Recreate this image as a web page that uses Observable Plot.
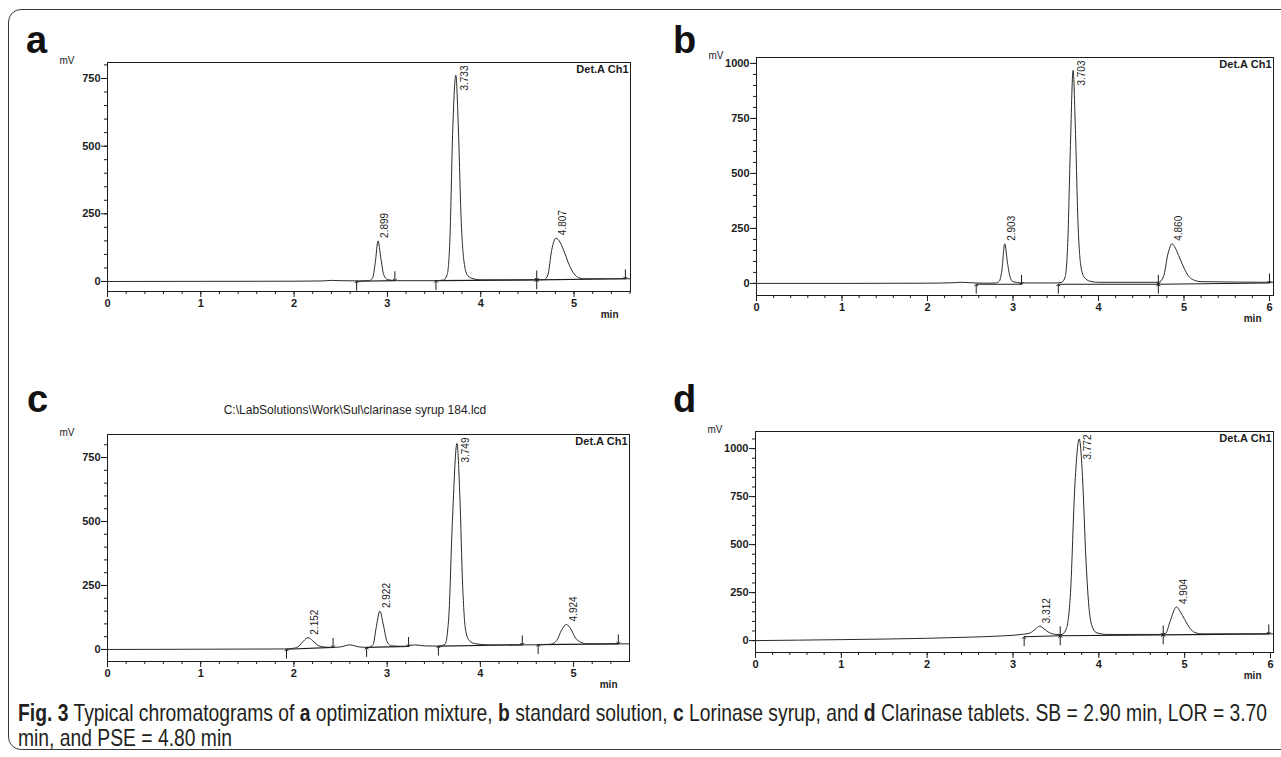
<!DOCTYPE html>
<html>
<head>
<meta charset="utf-8">
<script src="https://cdn.jsdelivr.net/npm/d3@7"></script>
<script src="https://cdn.jsdelivr.net/npm/@observablehq/plot@0.6"></script>
<style>
  html, body { margin: 0; padding: 0; background: #fff; }
  #root { position: relative; width: 1281px; height: 757px; overflow: hidden; background: #fff; }
  #root svg.plot { position: absolute; }
  #border { position: absolute; left: 8px; top: 9px; width: 1300px; height: 741px;
            border: 1.6px solid #3a3a3a; border-radius: 13px; box-sizing: border-box; }
  #overlay { position: absolute; left: 0; top: 0; }
</style>
</head>
<body>
<div id="root"><div id="border"></div></div>
<script>
// ---------------- data ----------------
// chromatogram traces: [time (min), signal (mV)]
const traceA = [[0,0],[1,0.5],[2,1],[2.3,2],[2.4,4],[2.5,3],[2.7,2],[2.8,3],[2.84,12],[2.87,70],[2.899,150],[2.93,85],[2.96,25],[3.0,7],[3.1,3],[3.5,3],[3.6,5],[3.64,25],[3.67,160],[3.70,560],[3.733,762],[3.76,570],[3.79,230],[3.82,75],[3.86,22],[3.92,10],[4.0,6],[4.5,6],[4.68,7],[4.72,25],[4.76,115],[4.807,160],[4.85,145],[4.90,105],[4.95,60],[5.0,28],[5.05,14],[5.1,10],[5.6,10]];
const traceB = [[0,0],[1,0],[2,1],[2.3,3],[2.4,5],[2.5,3],[2.7,1],[2.8,2],[2.84,10],[2.87,60],[2.903,180],[2.935,95],[2.965,30],[3.0,8],[3.1,2],[3.5,2],[3.57,5],[3.61,30],[3.64,180],[3.67,600],[3.703,968],[3.73,700],[3.76,280],[3.79,90],[3.83,30],[3.9,10],[4.0,5],[4.7,5],[4.76,30],[4.81,130],[4.86,180],[4.90,160],[4.95,115],[5.0,70],[5.05,35],[5.1,18],[5.2,8],[6.05,5]];
const traceC = [[0,0],[1,1],[1.9,2],[2.0,5],[2.06,15],[2.1,32],[2.152,46],[2.2,35],[2.25,18],[2.32,10],[2.42,8],[2.5,10],[2.6,18],[2.7,10],[2.8,8],[2.85,20],[2.88,80],[2.922,150],[2.96,95],[3.0,30],[3.05,14],[3.2,12],[3.3,18],[3.4,14],[3.55,13],[3.62,20],[3.66,120],[3.70,500],[3.749,805],[3.78,600],[3.81,250],[3.84,80],[3.88,35],[3.95,22],[4.1,18],[4.5,18],[4.75,20],[4.82,35],[4.87,75],[4.924,98],[4.97,80],[5.02,45],[5.08,28],[5.15,22],[5.6,22]];
const traceD = [[0,0],[1,5],[2,12],[2.5,18],[2.9,25],[3.1,32],[3.2,40],[3.26,60],[3.312,75],[3.36,62],[3.42,42],[3.5,32],[3.56,30],[3.62,60],[3.67,250],[3.72,800],[3.772,1050],[3.81,850],[3.85,420],[3.89,150],[3.93,65],[3.98,40],[4.1,32],[4.7,32],[4.78,38],[4.83,100],[4.904,175],[4.95,150],[5.0,110],[5.06,65],[5.12,42],[5.2,35],[6.03,35]];

// peak retention times and apex heights (mV)
const peakTimesA = [2.899, 3.733, 4.807];
const peakHeightsA = [150, 762, 160];
const peakTimesB = [2.903, 3.703, 4.860];
const peakHeightsB = [180, 968, 180];
const peakTimesC = [2.152, 2.922, 3.749, 4.924];
const peakHeightsC = [46, 150, 805, 98];
const peakTimesD = [3.312, 3.772, 4.904];
const peakHeightsD = [75, 1050, 175];

// integration marks: [time, signal, kind]
const stopsA = [[2.67,1,"up"],[3.08,3,"down"],[3.52,3,"up"],[4.6,6,"both"],[5.55,10,"down"]];
const stopsB = [[2.57,-4,"up"],[3.1,-4,"down"],[3.53,-4,"up"],[4.7,-4,"both"],[6.0,2,"down"]];
const stopsC = [[1.92,1,"up"],[2.42,8,"down"],[2.78,8,"up"],[3.23,12,"down"],[3.55,13,"up"],[4.45,18,"down"],[4.62,19,"up"],[5.48,22,"down"]];
const stopsD = [[3.13,20,"up"],[3.55,25,"both"],[4.75,30,"both"],[5.98,35,"down"]];

// integration baselines: [t1, v1, t2, v2]
const basesA = [[2.67,1,3.08,3],[3.52,3,4.6,6],[4.6,6,5.55,10]];
const basesB = [[2.57,-4,3.1,-4],[3.53,-4,4.7,-4],[4.7,-4,6.0,2]];
const basesC = [[1.92,1,2.42,8],[2.78,8,3.23,12],[3.55,13,4.45,18],[4.62,19,5.48,22]];
const basesD = [[3.13,20,3.55,25],[3.55,25,4.75,30],[4.75,30,5.98,35]];

// tick labels
const yMajorA = [0, 250, 500, 750];
const yMajorB = [0, 250, 500, 750, 1000];
const xMajorA = [0, 1, 2, 3, 4, 5];
const xMajorB = [0, 1, 2, 3, 4, 5, 6];

const panelLetters = ["a", "b", "c", "d"];
const detectorLabel = "Det.A Ch1";
const unitY = "mV";
const unitX = "min";
const fileTitleC = "C:\\LabSolutions\\Work\\Sul\\clarinase syrup 184.lcd";

// ---------------- drawing ----------------
const FONT = '"Liberation Sans", Arial, sans-serif';
const INK = "#1c1c1c";
const root = document.getElementById("root");
const fmt = d3.format("d");

function panel(cfg) {
  const ML = 60, MR = 12, MT = 16, MB = 40;
  const fr = cfg.frame;
  const [y0, y1] = cfg.yDomain;
  const peaks = cfg.peakTimes.map((t, i) => ({t, v: cfg.peakHeights[i]}));
  const tallLimit = y1 * 0.85;
  const ups = [], downs = [];
  for (const [t, v, k] of cfg.stops) {
    if (k === "up" || k === "both") ups.push({t, v});
    if (k === "down" || k === "both") downs.push({t, v});
  }
  const p = Plot.plot({
    width: fr.r - fr.l + ML + MR,
    height: fr.b - fr.t + MT + MB,
    marginLeft: ML, marginRight: MR, marginTop: MT, marginBottom: MB,
    x: {domain: [0, cfg.xMax]},
    y: {domain: [y0, y1]},
    style: {fontFamily: FONT, background: "transparent", color: INK, overflow: "visible"},
    marks: [
      Plot.frame({stroke: INK, strokeWidth: 1}),
      Plot.axisY({ticks: d3.range(0, y1, 50), tickSize: 3, tickFormat: () => "", label: null}),
      Plot.axisY({ticks: cfg.yMajor, tickSize: 6, tickPadding: 1, tickFormat: fmt, fontSize: 11, fontWeight: "bold", label: null}),
      Plot.axisX({ticks: d3.range(0, cfg.xMax, 0.2), tickSize: 3, tickFormat: () => "", label: null}),
      Plot.axisX({ticks: cfg.xMajor, tickSize: 6, tickPadding: 2, tickFormat: fmt, fontSize: 11, fontWeight: "bold", label: null}),
      Plot.link(cfg.bases, {x1: d => d[0], y1: d => d[1], x2: d => d[2], y2: d => d[3], stroke: INK, strokeWidth: 1.1}),
      Plot.line(cfg.trace, {x: d => d[0], y: d => d[1], curve: "monotone-x", stroke: "#2a2a2a", strokeWidth: 1}),
      Plot.vector(ups, {x: "t", y: "v", length: 9, rotate: 0, anchor: "end", r: 3.2, stroke: INK, strokeWidth: 1}),
      Plot.vector(downs, {x: "t", y: "v", length: 9, rotate: 180, anchor: "end", r: 3.2, stroke: INK, strokeWidth: 1}),
      Plot.text(peaks.filter(d => d.v < tallLimit), {x: "t", y: "v", text: d => d.t.toFixed(3), rotate: -90, textAnchor: "start", dx: 7, dy: -3, fontSize: 10, fill: INK}),
      Plot.text(peaks.filter(d => d.v >= tallLimit), {x: "t", y: () => y1, text: d => d.t.toFixed(3), rotate: -90, textAnchor: "end", dx: 9, dy: 3, fontSize: 10, fill: INK}),
      Plot.text([detectorLabel], {frameAnchor: "top-right", text: d => d, dx: -2, dy: 3, lineAnchor: "top", fontSize: 11, fontWeight: "bold", fill: INK}),
      Plot.text([unitY], {frameAnchor: "top-left", text: d => d, dx: -48, dy: -6, fontSize: 10, fill: INK}),
      Plot.text([unitX], {frameAnchor: "bottom-right", text: d => d, dx: -12, dy: 26, fontSize: 10, fontWeight: "bold", fill: INK})
    ]
  });
  p.classList.add("plot");
  p.style.left = (fr.l - ML) + "px";
  p.style.top = (fr.t - MT) + "px";
  root.appendChild(p);
}

panel({frame: {l: 107, t: 62, r: 630, b: 291}, xMax: 5.605, yDomain: [-37, 809],
  trace: traceA, peakTimes: peakTimesA, peakHeights: peakHeightsA, stops: stopsA, bases: basesA,
  yMajor: yMajorA, xMajor: xMajorA});
panel({frame: {l: 756, t: 57, r: 1273, b: 295}, xMax: 6.047, yDomain: [-55, 1027],
  trace: traceB, peakTimes: peakTimesB, peakHeights: peakHeightsB, stops: stopsB, bases: basesB,
  yMajor: yMajorB, xMajor: xMajorB});
panel({frame: {l: 107, t: 434, r: 629, b: 661}, xMax: 5.6, yDomain: [-47, 840],
  trace: traceC, peakTimes: peakTimesC, peakHeights: peakHeightsC, stops: stopsC, bases: basesC,
  yMajor: yMajorA, xMajor: xMajorA});
panel({frame: {l: 755, t: 431, r: 1273, b: 652}, xMax: 6.035, yDomain: [-62, 1089],
  trace: traceD, peakTimes: peakTimesD, peakHeights: peakHeightsD, stops: stopsD, bases: basesD,
  yMajor: yMajorB, xMajor: xMajorB});

// overlay: panel letters, file title, caption
const svg = d3.select(root).append("svg").attr("id", "overlay").attr("width", 1281).attr("height", 757);
const letterPos = [[26, 53], [673, 53], [27, 412], [673, 412]];
panelLetters.forEach((l, i) => {
  svg.append("text").attr("x", letterPos[i][0]).attr("y", letterPos[i][1])
    .attr("font-family", '"Liberation Sans", Arial, sans-serif').attr("font-weight", "bold")
    .attr("font-size", 38).attr("fill", "#111").text(l);
});
svg.append("text").attr("x", 355).attr("y", 414).attr("text-anchor", "middle")
  .attr("font-family", FONT).attr("font-size", 12).attr("fill", INK).text(fileTitleC);

const capLine1 = [["Fig. 3", true], [" Typical chromatograms of ", false], ["a", true], [" optimization mixture, ", false], ["b", true], [" standard solution, ", false], ["c", true], [" Lorinase syrup, and ", false], ["d", true], [" Clarinase tablets. SB = 2.90 min, LOR = 3.70", false]];
const capLine2 = [["min, and PSE = 4.80 min", false]];
function capLine(parts) {
  const t = svg.append("text").attr("x", 0).attr("y", 0).attr("font-family", '"Liberation Sans", Arial, sans-serif')
    .attr("font-size", 23).attr("fill", "#231f20");
  parts.forEach(([s, b]) => t.append("tspan").attr("font-weight", b ? "bold" : "normal").text(s));
  return t;
}
const l1 = capLine(capLine1);
const l2 = capLine(capLine2);
const sx = 1250 / l1.node().getComputedTextLength();
l1.attr("transform", `translate(18,721) scale(${sx},1)`);
l2.attr("transform", `translate(18,746) scale(${sx},1)`);
</script>
</body>
</html>
